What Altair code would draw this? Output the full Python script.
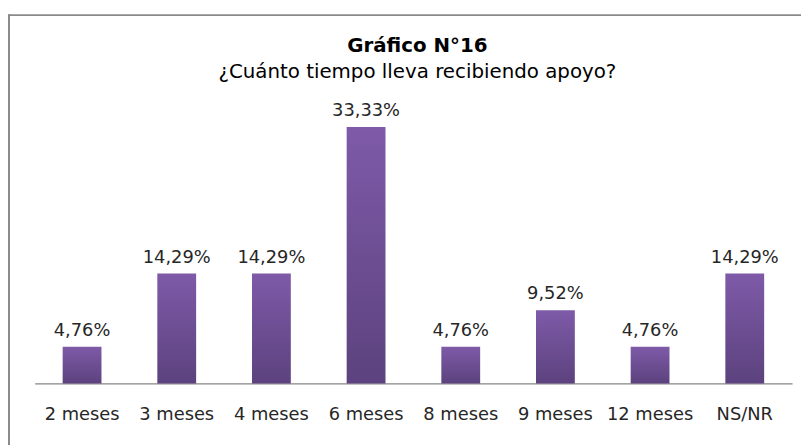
import altair as alt
import pandas as pd

categories = ["2 meses", "3 meses", "4 meses", "6 meses", "8 meses", "9 meses", "12 meses", "NS/NR"]
values = [4.76, 14.29, 14.29, 33.33, 4.76, 9.52, 4.76, 14.29]
labels = [f"{v:.2f}".replace(".", ",") + "%" for v in values]

df = pd.DataFrame({"cat": categories, "val": values, "lab": labels})

FONT = "DejaVu Sans"

x_enc = alt.X("cat:N", sort=categories, title=None,
              scale=alt.Scale(paddingInner=0.59, paddingOuter=0.295),
              axis=alt.Axis(labelAngle=0, ticks=False, domainColor="#868686", domainWidth=1.2,
                            labelFont=FONT, labelFontSize=18, labelColor="#262626",
                            labelPadding=22, grid=False))
y_enc = alt.Y("val:Q", title=None, scale=alt.Scale(domain=[0, 35]), axis=None)

grad = alt.Gradient(gradient="linear", x1=0, y1=0, x2=0, y2=1,
                    stops=[alt.GradientStop(color="#7E5AA8", offset=0),
                           alt.GradientStop(color="#5C427E", offset=1)])

bars = alt.Chart(df).mark_bar(color=grad).encode(x=x_enc, y=y_enc)

text = alt.Chart(df).mark_text(baseline="alphabetic", dy=-11, font=FONT, fontSize=18,
                               color="#262626").encode(
    x=alt.X("cat:N", sort=categories), y="val:Q", text="lab:N")

one = pd.DataFrame({"k": [0]})
left_line = alt.Chart(one).mark_rule(color="#8a8a8a", strokeWidth=2).encode(
    x=alt.value(-26), y=alt.value(-101), y2=alt.value(340))
top_line = alt.Chart(one).mark_rule(color="#8a8a8a", strokeWidth=2).encode(
    x=alt.value(-27), x2=alt.value(780), y=alt.value(-100))

chart = alt.layer(bars, text, left_line, top_line).properties(
    width=765, height=272,
    title=alt.TitleParams(text="Gráfico N°16",
                          subtitle="¿Cuánto tiempo lleva recibiendo apoyo?",
                          font=FONT, fontSize=20, fontWeight="bold", color="#000000",
                          subtitleFont=FONT, subtitleFontSize=20, subtitleColor="#000000",
                          subtitlePadding=6, anchor="middle", offset=-69, dx=4),
    view=alt.ViewBackground(stroke="transparent", strokeWidth=0),
    autosize=alt.AutoSizeParams(type="none"),
    padding={"left": 27, "top": 105, "right": 9, "bottom": 60},
).configure_view(stroke="transparent", strokeWidth=0).configure(background="white")

chart.save("out.html", embed_options={"renderer": "svg", "actions": False})
